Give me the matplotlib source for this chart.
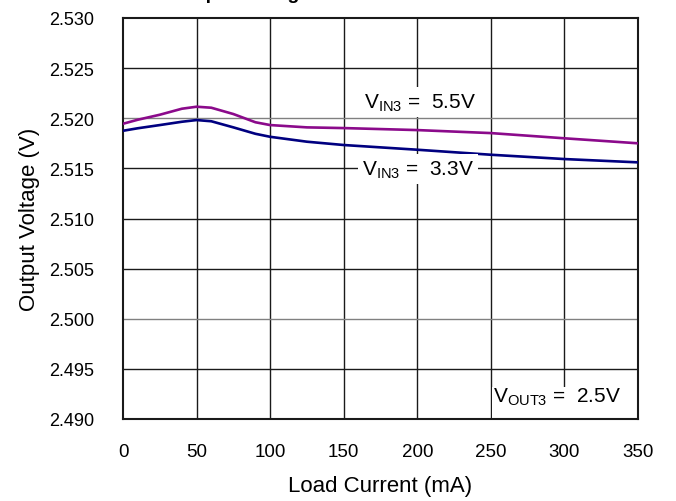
import matplotlib.pyplot as plt
from matplotlib.patches import Rectangle

plt.rcParams['font.family'] = ['Liberation Sans', 'DejaVu Sans']

# load current (mA)
current = [0, 10, 25, 40, 50, 60, 75, 90, 100, 125, 150, 200, 250, 300, 350]
# output voltage (V)
vin_55 = [2.51945, 2.51985, 2.52035, 2.52095, 2.52115, 2.52105, 2.52042, 2.51960, 2.51932,
          2.51909, 2.51902, 2.51882, 2.51852, 2.51800, 2.51750]
vin_33 = [2.51875, 2.51900, 2.51932, 2.51965, 2.51982, 2.51970, 2.51909, 2.51845, 2.51815,
          2.51766, 2.51733, 2.51686, 2.51636, 2.51593, 2.51560]

x_ticks = [0, 50, 100, 150, 200, 250, 300, 350]
y_ticks = [2.490, 2.495, 2.500, 2.505, 2.510, 2.515, 2.520, 2.525, 2.530]

fig = plt.figure(figsize=(6.76, 5.02), dpi=100)
ax = fig.add_axes([123 / 676, 1 - 420 / 502, 515 / 676, 401 / 502])

# grid
for xv in x_ticks[1:-1]:
    ax.axvline(xv, color='#1a1a1a', lw=1.0, zorder=1)
for yv in y_ticks[1:-1]:
    c = '#808080' if yv in (2.520, 2.500) else '#1a1a1a'
    ax.axhline(yv, color=c, lw=1.0, zorder=1)

ax.plot(current, vin_55, color='#8b0a8b', lw=1.9, zorder=3)
ax.plot(current, vin_33, color='#000080', lw=1.9, zorder=3)

ax.set_xlim(0, 350)
ax.set_ylim(2.490, 2.530)
ax.set_xticks(x_ticks)
ax.set_yticks(y_ticks)
ax.set_yticklabels([f'{v:.3f}' for v in y_ticks])
ax.tick_params(length=0)
ax.tick_params(axis='y', pad=21, labelsize=13)
ax.tick_params(axis='x', pad=17, labelsize=13.5)
for s in ax.spines.values():
    s.set_linewidth(1.5)
    s.set_color('#1a1a1a')

ax.set_xlabel('Load Current (mA)', fontsize=16, labelpad=11)
ax.set_ylabel('Output Voltage (V)', fontsize=16, labelpad=6)

box = dict(boxstyle='square,pad=0.2', fc='white', ec='none')
ax.text(202, 2.5216, r'V$_{\mathregular{IN3}}$ =  5.5V', fontsize=15, ha='center', va='center',
        bbox=box, zorder=4)
ax.text(200.5, 2.5149, r'V$_{\mathregular{IN3}}$ =  3.3V', fontsize=15, ha='center', va='center',
        bbox=box, zorder=4)
ax.add_patch(Rectangle((250.6, 2.490), 99.4, 0.0032, fc='white', ec='none', zorder=2))
ax.text(295, 2.4923, r'V$_{\mathregular{OUT3}}$ =  2.5V', fontsize=15, ha='center', va='center',
        zorder=4)

fig.text(172 / 676, 1.002, 'Output Voltage vs. Load Current', fontsize=14, fontweight='bold',
         ha='left', va='baseline')

fig.savefig('out.png', dpi=100)
